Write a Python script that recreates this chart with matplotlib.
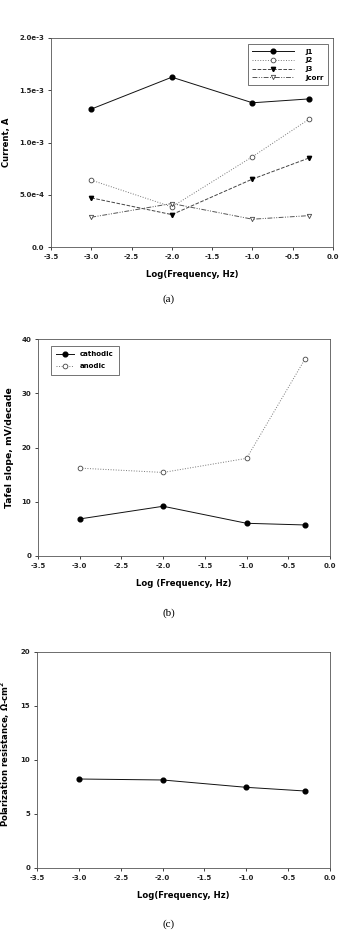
import matplotlib
matplotlib.use("Agg")
import matplotlib.pyplot as plt

plt.rcParams['font.family'] = ['DejaVu Sans']
plt.rcParams['font.weight'] = 'bold'
plt.rcParams['mathtext.fontset'] = 'dejavusans'

# log10 of frequency
log_freq = [-3.0, -2.0, -1.0, -0.3]

# (a) currents, A
j1 = [1.32e-3, 1.625e-3, 1.38e-3, 1.417e-3]
j2 = [0.64e-3, 0.384e-3, 0.864e-3, 1.222e-3]
j3 = [0.47e-3, 0.31e-3, 0.65e-3, 0.851e-3]
jcorr = [0.285e-3, 0.416e-3, 0.266e-3, 0.30e-3]

# (b) tafel slopes, mV/decade
cathodic = [6.83, 9.17, 6.03, 5.72]
anodic = [16.2, 15.4, 18.0, 36.3]

# (c) polarization resistance, ohm-cm2
rp = [8.24, 8.15, 7.47, 7.13]

xticks = [-3.5, -3.0, -2.5, -2.0, -1.5, -1.0, -0.5, 0.0]
W, H = 341, 935
TICK_FS = 5.0
LAB_FS = 6.1


def px_axes(fig, l, t, r, b):
    return fig.add_axes([l / W, (H - b) / H, (r - l) / W, (b - t) / H])


def style(ax, yticks, ylabels):
    ax.set_xlim(-3.5, 0.0)
    ax.set_xticks(xticks)
    ax.set_xticklabels(["%.1f" % v for v in xticks])
    ax.set_yticks(yticks)
    ax.set_yticklabels(ylabels)
    ax.tick_params(direction='out', length=2.5, width=0.6, labelsize=TICK_FS, pad=2.5,
                   top=False, right=False, colors='#222222')
    for s in ax.spines.values():
        s.set_linewidth(0.6)
        s.set_color('#555555')


fig = plt.figure(figsize=(W / 100, H / 100), dpi=100)

# ---- (a)
ax = px_axes(fig, 51, 38, 333, 247)
ax.plot(log_freq, j1, '-', color='#111111', lw=0.7, marker='o', ms=3.4, mfc='black', mec='black', label='J1')
ax.plot(log_freq, j2, ':', color='#777777', lw=0.7, marker='o', ms=3.4, mfc='white', mec='#444444', mew=0.6, label='J2')
ax.plot(log_freq, j3, '--', color='#444444', lw=0.7, marker='v', ms=3.1, mfc='black', mec='black', label='J3')
ax.plot(log_freq, jcorr, color='#555555', lw=0.7, dashes=[5, 1.5, 1, 1.5, 1, 1.5], marker='v', ms=3.1,
        mfc='white', mec='#444444', mew=0.6, label='Jcorr')
ax.set_ylim(0, 2.0e-3)
style(ax, [0, 5e-4, 1e-3, 1.5e-3, 2e-3], ['0.0', '5.0e-4', '1.0e-3', '1.5e-3', '2.0e-3'])
ax.set_xlabel('Log(Frequency, Hz)', fontsize=LAB_FS, fontweight='bold', labelpad=7)
ax.set_ylabel('Current, A', fontsize=LAB_FS, fontweight='bold', labelpad=6)
leg = ax.legend(loc='upper right', fontsize=TICK_FS, handlelength=6.0,
                frameon=True, fancybox=False, edgecolor='#333333', borderpad=0.6,
                labelspacing=0.4, handletextpad=1.6, bbox_to_anchor=(0.993, 0.986))
leg.get_frame().set_linewidth(0.6)
for t in leg.get_texts():
    t.set_fontweight('bold')
fig.text(169 / W, 1 - 299 / H, '(a)', family='Liberation Serif', fontweight='normal',
         fontsize=8, ha='center', va='center')

# ---- (b)
ax = px_axes(fig, 38, 339, 330, 556)
ax.plot(log_freq, cathodic, '-', color='#111111', lw=0.7, marker='o', ms=3.4, mfc='black', mec='black', label='cathodic')
ax.plot(log_freq, anodic, ':', color='#777777', lw=0.7, marker='o', ms=3.4, mfc='white', mec='#444444', mew=0.6, label='anodic')
ax.set_ylim(0, 40)
style(ax, [0, 10, 20, 30, 40], ['0', '10', '20', '30', '40'])
ax.set_xlabel('Log (Frequency, Hz)', fontsize=LAB_FS, fontweight='bold', labelpad=7)
ax.set_ylabel('Tafel slope, mV/decade', fontsize=6.7, fontweight='bold', labelpad=5)
leg = ax.legend(loc='upper left', fontsize=TICK_FS, handlelength=2.6,
                frameon=True, fancybox=False, edgecolor='#333333', borderpad=0.75,
                labelspacing=0.9, handletextpad=0.8, borderaxespad=0,
                bbox_to_anchor=(0.044, 0.968))
leg.get_frame().set_linewidth(0.6)
fig.text(169 / W, 1 - 613 / H, '(b)', family='Liberation Serif', fontweight='normal',
         fontsize=8, ha='center', va='center')

# ---- (c)
ax = px_axes(fig, 37, 652, 330, 868)
ax.plot(log_freq, rp, '-', color='#111111', lw=0.7, marker='o', ms=3.4, mfc='black', mec='black')
ax.set_ylim(0, 20)
style(ax, [0, 5, 10, 15, 20], ['0', '5', '10', '15', '20'])
ax.set_xlabel('Log(Frequency, Hz)', fontsize=LAB_FS, fontweight='bold', labelpad=7)
ax.set_ylabel(r'Polarization resistance, $\mathregular{\Omega}$-cm$^\mathbf{2}$', fontsize=LAB_FS,
              fontweight='bold', labelpad=7)
ax.yaxis.set_label_coords(-0.085, 0.53)
fig.text(169 / W, 1 - 924 / H, '(c)', family='Liberation Serif', fontweight='normal',
         fontsize=8, ha='center', va='center')

fig.savefig('out.png', dpi=100)
